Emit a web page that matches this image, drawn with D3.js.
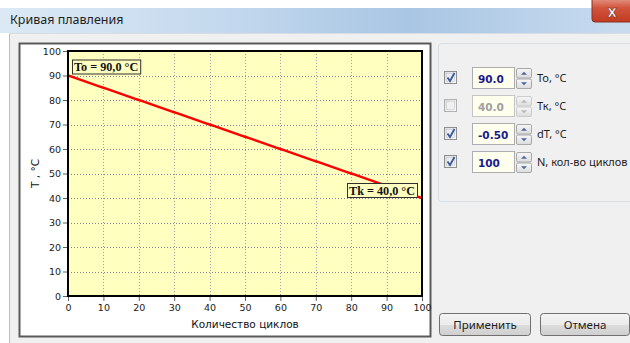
<!DOCTYPE html>
<html><head><meta charset="utf-8">
<script src="https://cdn.jsdelivr.net/npm/d3@7"></script>
<style>
html,body{margin:0;padding:0;background:#fff;overflow:hidden}
svg{display:block}
</style></head>
<body>
<script>
// ---- data ----
const cycles = [0,1,2,3,4,5,6,7,8,9,10,11,12,13,14,15,16,17,18,19,20,21,22,23,24,25,26,27,28,29,30,31,32,33,34,35,36,37,38,39,40,41,42,43,44,45,46,47,48,49,50,51,52,53,54,55,56,57,58,59,60,61,62,63,64,65,66,67,68,69,70,71,72,73,74,75,76,77,78,79,80,81,82,83,84,85,86,87,88,89,90,91,92,93,94,95,96,97,98,99,100];
const temps = [90,89.5,89,88.5,88,87.5,87,86.5,86,85.5,85,84.5,84,83.5,83,82.5,82,81.5,81,80.5,80,79.5,79,78.5,78,77.5,77,76.5,76,75.5,75,74.5,74,73.5,73,72.5,72,71.5,71,70.5,70,69.5,69,68.5,68,67.5,67,66.5,66,65.5,65,64.5,64,63.5,63,62.5,62,61.5,61,60.5,60,59.5,59,58.5,58,57.5,57,56.5,56,55.5,55,54.5,54,53.5,53,52.5,52,51.5,51,50.5,50,49.5,49,48.5,48,47.5,47,46.5,46,45.5,45,44.5,44,43.5,43,42.5,42,41.5,41,40.5,40];
const xTicks = [0,10,20,30,40,50,60,70,80,90,100];
const yTicks = [0,10,20,30,40,50,60,70,80,90,100];
const annoStart = "To = 90,0 °C";
const annoEnd = "Tk = 40,0 °C";
const windowTitle = "Кривая плавления";
const xTitle = "Количество циклов";
const yTitle = "T , °C";
const paramChecked = [true,false,true,true];
const paramValues = ["90.0","40.0","-0.50","100"];
const paramLabels = ["To, °C","Тк, °C","dT, °C","N, кол-во циклов"];
const buttons = ["Применить","Отмена"];

const W = 630, H = 343;
const svg = d3.select("body").append("svg").attr("width",W).attr("height",H);
const defs = svg.append("defs");

// gradients
const tg = defs.append("linearGradient").attr("id","titleGrad");
[["0%","#dce9f5"],["35%","#c4d9ee"],["65%","#a9c6e4"],["100%","#c9dcef"]].forEach(([o,c])=>tg.append("stop").attr("offset",o).attr("stop-color",c));
const cg = defs.append("linearGradient").attr("id","closeGrad").attr("x1",0).attr("y1",0).attr("x2",0).attr("y2",1);
[["0%","#e8a79a"],["45%","#d2553d"],["100%","#c23a20"]].forEach(([o,c])=>cg.append("stop").attr("offset",o).attr("stop-color",c));
const bg = defs.append("linearGradient").attr("id","btnGrad").attr("x1",0).attr("y1",0).attr("x2",0).attr("y2",1);
[["0%","#f4f4f4"],["50%","#ebebeb"],["51%","#dddddd"],["100%","#cfcfcf"]].forEach(([o,c])=>bg.append("stop").attr("offset",o).attr("stop-color",c));
const sg = defs.append("linearGradient").attr("id","spinGrad").attr("x1",0).attr("y1",0).attr("x2",0).attr("y2",1);
[["0%","#f7f7f7"],["100%","#dcdcdc"]].forEach(([o,c])=>sg.append("stop").attr("offset",o).attr("stop-color",c));
const kg = defs.append("linearGradient").attr("id","chkGrad").attr("x1",0).attr("y1",0).attr("x2",1).attr("y2",1);
[["0%","#dcdcdc"],["100%","#f8f8f8"]].forEach(([o,c])=>kg.append("stop").attr("offset",o).attr("stop-color",c));

// window chrome
svg.append("rect").attr("x",0).attr("y",0).attr("width",W).attr("height",H).attr("fill","#ffffff");
svg.append("rect").attr("x",0).attr("y",8).attr("width",W).attr("height",25).attr("fill","url(#titleGrad)");
svg.append("text").attr("x",10).attr("y",24).attr("font-family","Noto Sans, sans-serif").attr("font-size",12.5).attr("fill","#1e1e1e").text(windowTitle);
svg.append("rect").attr("x",592).attr("y",-4).attr("width",48).attr("height",26).attr("rx",3).attr("fill","url(#closeGrad)").attr("stroke","#8a3322");
svg.append("text").attr("x",612).attr("y",17).attr("text-anchor","middle").attr("font-family","DejaVu Sans, sans-serif").attr("font-weight","bold").attr("font-size",15).attr("fill","#ffffff").attr("stroke","#7a2a1a").attr("stroke-width",0.6).text("x");
svg.append("rect").attr("x",9).attr("y",33).attr("width",W-9).attr("height",H-33).attr("fill","#f0f0f0");
svg.append("line").attr("x1",9.5).attr("x2",9.5).attr("y1",33).attr("y2",H).attr("stroke","#b4bfcc");
svg.append("line").attr("x1",9).attr("x2",W).attr("y1",33.5).attr("y2",33.5).attr("stroke","#d8dde3");

// chart panel
svg.append("rect").attr("x",19.5).attr("y",43.5).attr("width",411).attr("height",293).attr("fill","#ffffff").attr("stroke","#5a5a5a").attr("stroke-width",2);

const m = {l:68, r:422, t:51, b:296};
const x = d3.scaleLinear().domain([0,100]).range([m.l,m.r]);
const y = d3.scaleLinear().domain([0,100]).range([m.b,m.t]);

const plot = svg.append("g");
plot.append("rect").attr("x",m.l).attr("y",m.t).attr("width",m.r-m.l).attr("height",m.b-m.t).attr("fill","#ffffc0");

// grid
plot.append("g").selectAll("line").data(xTicks.slice(1,-1)).join("line")
  .attr("x1",d=>Math.round(x(d))+0.5).attr("x2",d=>Math.round(x(d))+0.5).attr("y1",m.t).attr("y2",m.b)
  .attr("stroke","#a0a0a0").attr("stroke-width",1).attr("stroke-dasharray","1,2");
plot.append("g").selectAll("line").data(yTicks.slice(1,-1)).join("line")
  .attr("y1",d=>Math.round(y(d))+0.5).attr("y2",d=>Math.round(y(d))+0.5).attr("x1",m.l).attr("x2",m.r)
  .attr("stroke","#8080a0").attr("stroke-width",1).attr("stroke-dasharray","1,2");

// line
const line = d3.line().x((d,i)=>x(cycles[i])).y(d=>y(d));
plot.append("path").datum(temps).attr("d",line).attr("fill","none").attr("stroke","#ff0000").attr("stroke-width",2.4);

// frame
plot.append("rect").attr("x",m.l).attr("y",m.t).attr("width",m.r-m.l).attr("height",m.b-m.t).attr("fill","none").attr("stroke","#000").attr("stroke-width",2);

// axes
const xAxis = d3.axisBottom(x).tickValues(xTicks).tickSize(4).tickPadding(3).tickFormat(d3.format("d"));
const gx = svg.append("g").attr("transform",`translate(0,${m.b+1})`).call(xAxis);
const yAxis = d3.axisLeft(y).tickValues(yTicks).tickSize(4).tickPadding(2).tickFormat(d3.format("d"));
const gy = svg.append("g").attr("transform",`translate(${m.l-1},0)`).call(yAxis);
[gx,gy].forEach(g=>{
  g.select(".domain").remove();
  g.selectAll(".tick line").attr("stroke","#606060");
  g.selectAll(".tick text").attr("font-family","DejaVu Sans, sans-serif").attr("font-size",9.5).attr("fill","#1a1a1a");
});

svg.append("text").attr("x",(m.l+m.r)/2).attr("y",328).attr("text-anchor","middle")
  .attr("font-family","DejaVu Sans, sans-serif").attr("font-size",10.5).attr("fill","#111").text(xTitle);
svg.append("text").attr("transform",`translate(39,${(m.t+m.b)/2}) rotate(-90)`).attr("text-anchor","middle")
  .attr("font-family","DejaVu Sans, sans-serif").attr("font-size",10.5).attr("fill","#111").text(yTitle);

// annotations
function anno(txt, xx, yy, anchor){
  const g = svg.append("g");
  const t = g.append("text").attr("font-family","Liberation Serif, serif").attr("font-weight","bold").attr("font-size",12.2).attr("fill","#111").text(txt);
  const w = t.node().getComputedTextLength();
  let bx = anchor==="end" ? xx - w - 4 : xx;
  g.insert("rect","text").attr("x",bx+0.5).attr("y",yy+0.5).attr("width",w+4).attr("height",14).attr("fill","#ffffc0").attr("stroke","#303030").attr("stroke-width",1);
  t.attr("x",bx+2).attr("y",yy+11.5);
}
anno(annoStart, x(cycles[0])+4, y(temps[0])-16, "start");
anno(annoEnd, x(cycles[cycles.length-1])-5, y(temps[temps.length-1])-15, "end");

// right group box
svg.append("rect").attr("x",438.5).attr("y",43.5).attr("width",205).attr("height",158).attr("rx",3).attr("fill","none").attr("stroke","#d5dfe5");

const rowY = [78,106,134,162];
paramValues.forEach((v,i)=>{
  const cy = rowY[i];
  const enabled = paramChecked[i];
  const g = svg.append("g");
  // checkbox
  g.append("rect").attr("x",444.5).attr("y",cy-6.5).attr("width",12).attr("height",12).attr("fill","url(#chkGrad)").attr("stroke", enabled?"#8e8f8f":"#b1b1b1");
  g.append("rect").attr("x",446.5).attr("y",cy-4.5).attr("width",8).attr("height",8).attr("fill",enabled?"#e9ecf3":"#f0f0f0").attr("stroke","#c9cbd2").attr("stroke-width",0.6);
  if(enabled){
    g.append("path").attr("d",`M447.5,${cy-0.5} L450,${cy+3} L454.5,${cy-5}`).attr("fill","none").attr("stroke","#3c5a9a").attr("stroke-width",1.8);
  }
  // edit box
  g.append("rect").attr("x",472.5).attr("y",cy-10.5).attr("width",42).attr("height",21).attr("fill","#ffffee").attr("stroke",enabled?"#abadb3":"#c5c5c5");
  g.append("text").attr("x",478).attr("y",cy+4.5).attr("font-family","DejaVu Sans, sans-serif").attr("font-weight","bold").attr("font-size",10.5)
    .attr("fill",enabled?"#1a1a8c":"#a0a0a0").text(v);
  // spinner
  [0,1].forEach(k=>{
    const sy = cy-10 + k*10.5;
    g.append("rect").attr("x",516.5).attr("y",sy+0.5).attr("width",15).attr("height",9.5).attr("rx",1.5).attr("fill","url(#spinGrad)").attr("stroke",enabled?"#a8a8a8":"#cccccc");
    const cx = 524, ay = sy+5.2;
    const p = k===0 ? `M${cx-3},${ay+1.5} L${cx+3},${ay+1.5} L${cx},${ay-1.5} Z` : `M${cx-3},${ay-1.5} L${cx+3},${ay-1.5} L${cx},${ay+1.5} Z`;
    g.append("path").attr("d",p).attr("fill",enabled?"#4a6a98":"#b8b8b8");
  });
  // label
  g.append("text").attr("x",537).attr("y",cy+4).attr("font-family","Noto Sans, sans-serif").attr("font-size",11).attr("fill","#1e1e1e").text(paramLabels[i]);
});

// buttons
const btnX = [439,540], btnW = [91,89];
buttons.forEach((b,i)=>{
  svg.append("rect").attr("x",btnX[i]+0.5).attr("y",313.5).attr("width",btnW[i]).attr("height",22).attr("rx",3).attr("fill","url(#btnGrad)").attr("stroke","#707070");
  svg.append("text").attr("x",btnX[i]+btnW[i]/2+0.5).attr("y",329).attr("text-anchor","middle").attr("font-family","Noto Sans, sans-serif").attr("font-size",11.5).attr("fill","#1e1e1e").text(b);
});
</script>
</body></html>
